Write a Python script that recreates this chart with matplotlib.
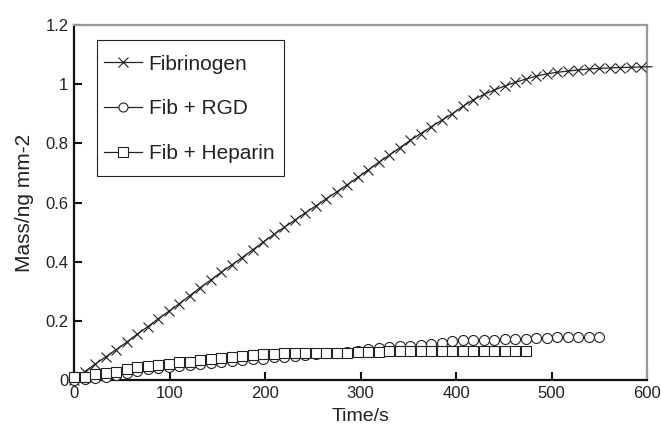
import numpy as np
import matplotlib
matplotlib.use("Agg")
import matplotlib.pyplot as plt
from matplotlib.patches import Rectangle

step = 11.0  # sampling interval (s)

fibrinogen = [0.000, 0.028, 0.054, 0.078, 0.103, 0.128, 0.155, 0.180, 0.207, 0.232,
              0.258, 0.285, 0.312, 0.338, 0.364, 0.389, 0.414, 0.440, 0.466, 0.492,
              0.516, 0.540, 0.565, 0.588, 0.613, 0.636, 0.660, 0.685, 0.710, 0.736,
              0.760, 0.785, 0.810, 0.833, 0.856, 0.878, 0.900, 0.925, 0.947, 0.965,
              0.980, 0.994, 1.006, 1.017, 1.027, 1.035, 1.040, 1.044, 1.048, 1.051,
              1.053, 1.055, 1.056, 1.057, 1.058, 1.059]

rgd = [0.002, 0.003, 0.006, 0.011, 0.017, 0.025, 0.032, 0.036, 0.040, 0.045,
       0.047, 0.051, 0.056, 0.059, 0.062, 0.065, 0.068, 0.070, 0.073, 0.077,
       0.079, 0.081, 0.085, 0.087, 0.090, 0.092, 0.096, 0.099, 0.104, 0.107,
       0.113, 0.115, 0.116, 0.118, 0.122, 0.126, 0.133, 0.135, 0.136, 0.136,
       0.137, 0.138, 0.139, 0.140, 0.142, 0.143, 0.144, 0.144, 0.144, 0.144,
       0.144]

heparin = [0.010, 0.010, 0.020, 0.024, 0.028, 0.036, 0.043, 0.047, 0.051, 0.056,
           0.060, 0.062, 0.067, 0.071, 0.075, 0.078, 0.083, 0.085, 0.087, 0.089,
           0.090, 0.090, 0.090, 0.091, 0.092, 0.093, 0.093, 0.094, 0.095, 0.096,
           0.097, 0.097, 0.098, 0.098, 0.098, 0.098, 0.098, 0.098, 0.098, 0.098,
           0.098, 0.098, 0.098, 0.098]

labels = ["Fibrinogen", "Fib + RGD", "Fib + Heparin"]
xticks = [0, 100, 200, 300, 400, 500, 600]
yticks = [0, 0.2, 0.4, 0.6, 0.8, 1.0, 1.2]
ytick_labels = ["0", "0.2", "0.4", "0.6", "0.8", "1", "1.2"]

plt.rcParams['font.family'] = ['Liberation Sans', 'DejaVu Sans']
txt = '#222222'

fig = plt.figure(figsize=(6.61, 4.30), dpi=100)
ax = fig.add_axes([0.112, 0.116, 0.867, 0.826])

t_f = np.arange(len(fibrinogen)) * step
t_r = np.arange(len(rgd)) * step
t_h = np.arange(len(heparin)) * step

lw = 0.9
ms = 7.2
ax.plot(t_f, fibrinogen, color='#222222', lw=lw, marker='x', ms=ms, mew=0.8,
        markevery=list(range(len(fibrinogen) - 1)), clip_on=False, zorder=3,
        label=labels[0])
ax.plot(t_r, rgd, color='#222222', lw=lw, marker='o', ms=ms, mew=0.8,
        mfc='white', clip_on=False, zorder=3, label=labels[1])
ax.plot(t_h, heparin, color='#222222', lw=lw, marker='s', ms=ms, mew=0.8,
        mfc='white', clip_on=False, zorder=4, label=labels[2])

ax.set_xlim(0, 600)
ax.set_ylim(0, 1.2)
ax.set_xticks(xticks)
ax.set_yticks(yticks)
ax.set_yticklabels(ytick_labels)

for s in ['left', 'bottom']:
    ax.spines[s].set_color('#111111')
    ax.spines[s].set_linewidth(1.6)
for s in ['top', 'right']:
    ax.spines[s].set_color('#999999')
    ax.spines[s].set_linewidth(1.6)

ax.tick_params(axis='both', direction='in', length=6, width=1.5,
               labelsize=12, colors='#111111', labelcolor=txt, pad=4,
               top=False, right=False)

ax.set_xlabel("Time/s", fontsize=14, color=txt, labelpad=5)
ax.set_ylabel("Mass/ng mm-2", fontsize=15, color=txt, labelpad=8)

# legend frame drawn separately to match the reference box proportions
ax.add_patch(Rectangle((0.040, 0.575), 0.326, 0.383, transform=ax.transAxes,
                       fill=True, facecolor='white', edgecolor='#222222',
                       lw=0.8, zorder=5))
leg = ax.legend(loc='upper left', bbox_to_anchor=(0.052, 0.916), fontsize=15,
                frameon=False, handlelength=1.85, labelspacing=1.23,
                borderpad=0, handletextpad=0.3, borderaxespad=0)
leg.set_zorder(6)
for h in leg.legend_handles:
    h.set_markersize(6.5)
for t in leg.get_texts():
    t.set_color(txt)

fig.savefig("out.png", dpi=100)
